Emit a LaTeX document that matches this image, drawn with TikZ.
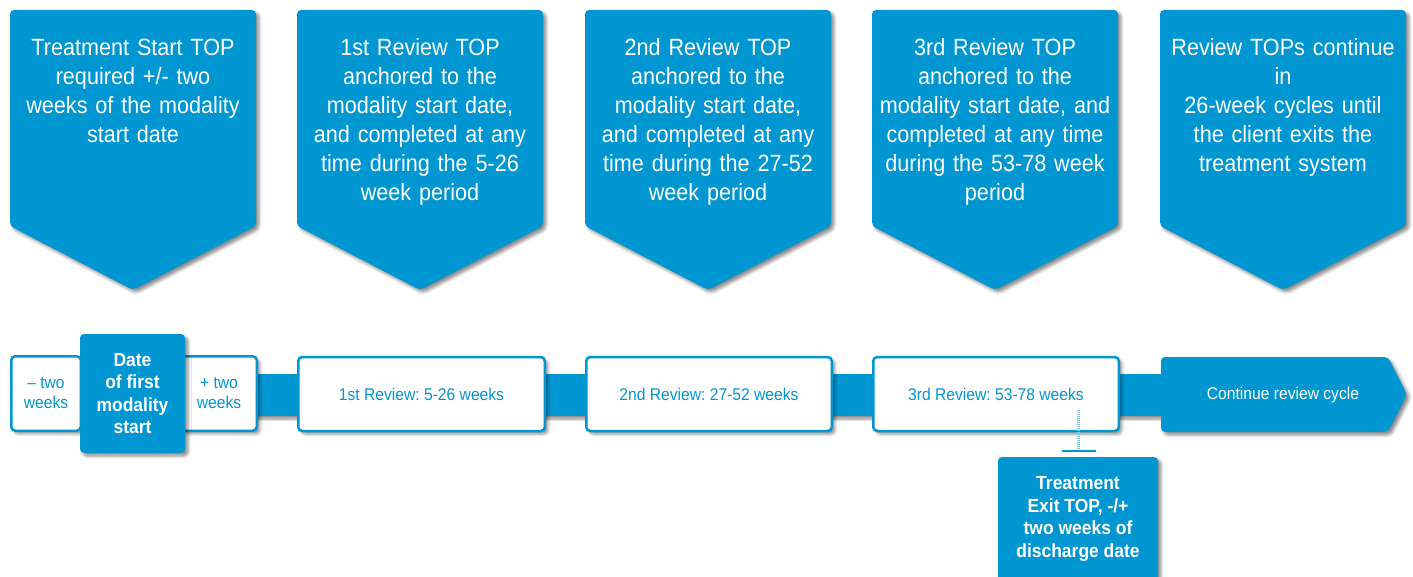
\documentclass[tikz,border=0pt]{standalone}
\usepackage{fontspec}
\setmainfont{Liberation Sans}[FakeStretch=0.92]
\usetikzlibrary{shadows.blur}
\definecolor{topblue}{RGB}{0,150,209}
\definecolor{dotblue}{RGB}{120,195,232}
\frenchspacing

\begin{document}
\begin{tikzpicture}[x=1pt,y=-1pt,
  softshadow/.style={blur shadow={shadow xshift=3pt,shadow yshift=-3pt,shadow blur radius=3pt,shadow opacity=45}},
  flag/.style={fill=topblue, rounded corners=4pt, softshadow},
  flagtext/.style={anchor=north, inner sep=0pt, text width=240pt, align=center,
    text=white, font=\fontsize{23.5}{29}\selectfont},
  periodbox/.style={draw=topblue, line width=2.5pt, fill=white, rounded corners=4pt,
    softshadow, text=topblue, align=center, inner sep=0pt,
    font=\fontsize{17}{20}\selectfont},
  bluebox/.style={fill=topblue, rounded corners=4pt, softshadow, text=white,
    align=center, inner sep=0pt, font=\bfseries\fontsize{19}{22.5}\selectfont},
  band/.style={fill=topblue, softshadow},
  dotline/.style={draw=dotblue, line width=3pt, dash pattern=on 1pt off 1pt},
  tickline/.style={draw=topblue, line width=2pt}
]
\useasboundingbox (0,0) rectangle (1413,577);

% top row: downward pointing flags with their texts
\foreach \L/\name/\txt in {
  10/flagA/{Treatment Start TOP\\required +/- two\\weeks of the modality\\start date},
  297/flagB/{1st Review TOP\\anchored to the\\modality start date,\\and completed at any\\time during the 5-26\\week period},
  585/flagC/{2nd Review TOP\\anchored to the\\modality start date,\\and completed at any\\time during the 27-52\\week period},
  872/flagD/{3rd Review TOP\\anchored to the\\modality start date, and\\completed at any time\\during the 53-78 week\\period},
  1160/flagE/{Review TOPs continue\\in\\26-week cycles until\\the client exits the\\treatment system}}{
  \path[flag] (\L,10) -- (\L+246,10) -- (\L+246,226) -- (\L+123,290) -- (\L,226) -- cycle;
  \node[flagtext] (\name) at (\L+123,35) {\rule{0pt}{20pt}\txt};
}

% timeline band
\path[band] (250,374) rectangle (1170,416);

% start window
\node[periodbox, minimum width=69.5pt, minimum height=74.5pt] (minus) at (46,393.5) {– two\\weeks};
\node[periodbox, minimum width=75.5pt, minimum height=74.5pt] (plus) at (219,393.5) {+ two\\weeks};
\node[bluebox, minimum width=105pt, minimum height=119pt] (start) at (132.5,393.5) {Date\\of first\\modality\\start};

% review periods
\node[periodbox, minimum width=246.5pt, minimum height=74pt] (revA) at (421.5,394) {1st Review: 5-26 weeks};
\node[periodbox, minimum width=245.5pt, minimum height=74pt] (revB) at (709,394) {2nd Review: 27-52 weeks};
\node[periodbox, minimum width=245.5pt, minimum height=74pt] (revC) at (996,394) {3rd Review: 53-78 weeks};

% continuing cycle arrow
\path[flag] (1161,357) -- (1388,357) -- (1407,394.5) -- (1388,432) -- (1161,432) -- cycle;
\node[text=white, inner sep=0pt, font=\fontsize{17}{20}\selectfont] (cont) at (1283,395) {Continue review cycle};

% exit marker
\node[bluebox, minimum width=160pt, minimum height=124pt] (exit) at (1078,519) {Treatment\\Exit TOP, -/+\\two weeks of\\discharge date};
\coordinate (dtop) at (1078,410);
\coordinate (dbot) at (1078,449);
\coordinate (tickL) at (1062,451);
\coordinate (tickR) at (1096,451);
\draw[dotline] (dtop) -- (dbot);
\draw[tickline] (tickL) -- (tickR);
\end{tikzpicture}
\end{document}
